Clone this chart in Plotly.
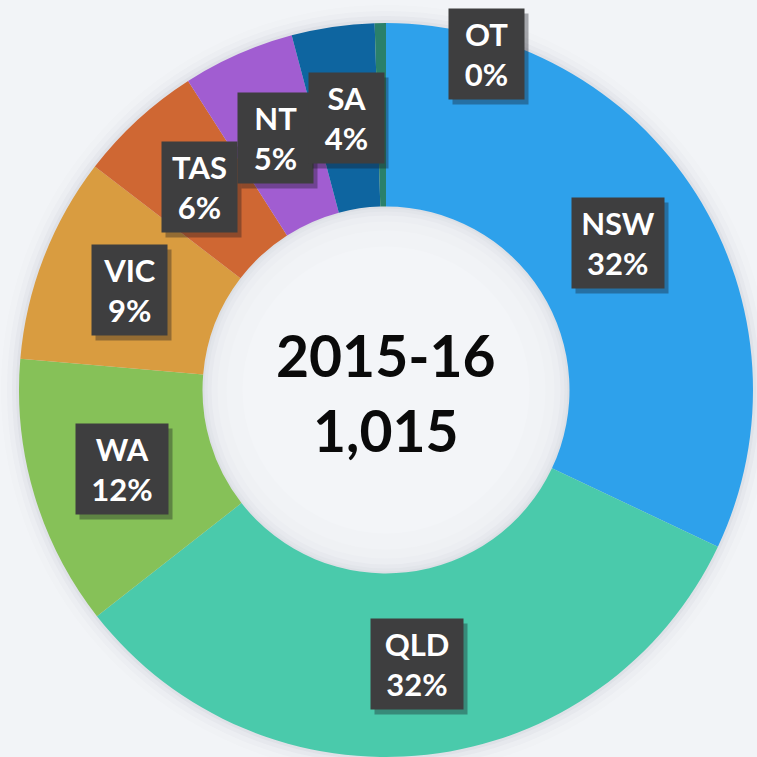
import math
import plotly.graph_objects as go

# ---- data ----
states = ["NSW", "QLD", "WA", "VIC", "TAS", "NT", "SA", "OT"]
counts = [325, 329, 121, 92, 56, 50, 37, 5]
year_label = "2015-16"
colors = ["#2ea1eb", "#4acaab", "#86c158", "#d99c40", "#cf6733", "#a15dd1", "#0e65a0", "#2a806a"]

total = sum(counts)

W = H = 757
dom_x = [18 / W, 754 / W]
dom_y = [0.0, 734 / H]
HOLE = 0.5

fig = go.Figure()
fig.add_trace(go.Pie(
    labels=states, values=counts, sort=False, direction="clockwise", rotation=0,
    hole=HOLE, marker=dict(colors=colors, line=dict(width=0)),
    textinfo="none", hoverinfo="label+value+percent", showlegend=False,
    domain=dict(x=dom_x, y=dom_y),
))

# geometry (paper coords) of the pie
R_px = min((dom_x[1] - dom_x[0]) * W, (dom_y[1] - dom_y[0]) * H) / 2
cx = (dom_x[0] + dom_x[1]) / 2
cy = (dom_y[0] + dom_y[1]) / 2

shapes = []
# soft outer shadow around ring
for extra, op in [(18, 0.012), (12, 0.02), (7, 0.03), (3, 0.04)]:
    r = (R_px + extra)
    shapes.append(dict(type="circle", xref="paper", yref="paper", layer="below",
                       x0=cx - r / W, x1=cx + r / W, y0=cy - r / H, y1=cy + r / H,
                       fillcolor=f"rgba(60,70,90,{op})", line=dict(width=0)))
# inner shading of the hole
rh = R_px * HOLE
for d, col in [(0, "#dcdfe5"), (2, "#e2e5ea"), (5, "#e7e9ee"), (9, "#eceef2"), (15, "#eff1f4"), (24, "#f1f3f6"), (40, "#f3f5f8")]:
    r = rh - d
    shapes.append(dict(type="circle", xref="paper", yref="paper", layer="below",
                       x0=cx - r / W, x1=cx + r / W, y0=cy - r / H, y1=cy + r / H,
                       fillcolor=col, line=dict(width=0)))

annotations = []
PAD = 8
label_font = dict(family="Lato, 'Open Sans', sans-serif", size=31, color="white")
cum = 0
for name, v in zip(states, counts):
    frac = v / total
    mid = (cum + v / 2) / total * 2 * math.pi
    cum += v
    r_lab = R_px * (1 + HOLE) / 2
    if frac < 0.01:
        r_lab = R_px * 0.955
        mid += math.radians(17.5)
    x = cx + r_lab * math.sin(mid) / W
    y = cy + r_lab * math.cos(mid) / H
    pct = f"{frac:.0%}"
    txt = f"<b>{name}</b><br><b>{pct}</b>"
    box_w = (92 if len(pct) >= 3 else 75) - 2 * PAD
    box_h = 90 - 2 * PAD
    common = dict(x=x, y=y, xref="paper", yref="paper", showarrow=False,
                  xanchor="center", yanchor="middle", borderpad=PAD,
                  width=box_w, height=box_h, align="center", valign="middle")
    # drop shadow (box only)
    annotations.append(dict(common, text=" ", xshift=4, yshift=-5,
                            bgcolor="rgba(20,20,30,0.35)", font=label_font))
    annotations.append(dict(common, text=txt, bgcolor="#3e3e3f", font=label_font))

center_font = dict(family="Lato, 'Open Sans', sans-serif", size=57, color="#0a0a0a")
annotations.append(dict(x=cx, y=cy, xref="paper", yref="paper", yshift=35, showarrow=False,
                        xanchor="center", yanchor="middle",
                        text=f"<b>{year_label}</b>", font=center_font))
annotations.append(dict(x=cx, y=cy, xref="paper", yref="paper", yshift=-40, showarrow=False,
                        xanchor="center", yanchor="middle",
                        text=f"<b>{total:,}</b>", font=center_font))

fig.update_layout(
    width=W, height=H, margin=dict(l=0, r=0, t=0, b=0),
    paper_bgcolor="#f2f4f7", plot_bgcolor="#f2f4f7",
    shapes=shapes, annotations=annotations,
)
fig.write_html("out.html", config={"displayModeBar": False},
               post_script="document.body.style.margin='0';document.body.style.overflow='hidden';")
